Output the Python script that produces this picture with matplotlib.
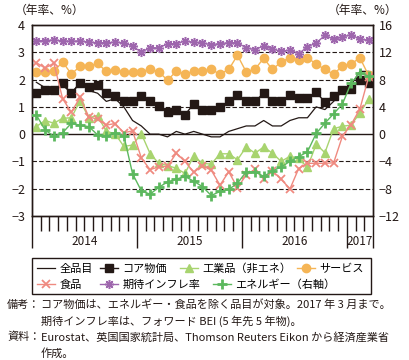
import matplotlib
matplotlib.use("Agg")
import matplotlib.pyplot as plt
from matplotlib.patches import Rectangle
import numpy as np

plt.rcParams['font.family'] = ['Noto Sans CJK JP', 'DejaVu Sans']

# 2014年1月〜2017年3月（月次）
headline = [1.9, 1.7, 1.6, 1.8, 1.5, 1.9, 1.6, 1.5, 1.2, 1.3, 1.0, 0.5,
            0.3, 0.0, 0.0, -0.1, 0.1, 0.0, 0.1, 0.0, -0.1, -0.1, 0.1, 0.2,
            0.3, 0.3, 0.5, 0.3, 0.3, 0.5, 0.6, 0.6, 1.0, 0.9, 1.2, 1.6,
            1.8, 2.3, 2.3]
core = [1.49, 1.6, 1.6, 1.87, 1.49, 1.87, 1.71, 1.79, 1.49, 1.38, 1.2, 1.2,
        1.4, 1.2, 1.02, 0.82, 0.9, 0.71, 1.11, 0.9, 0.89, 1.0, 1.21, 1.43,
        1.2, 1.2, 1.5, 1.2, 1.2, 1.42, 1.31, 1.31, 1.53, 1.18, 1.41, 1.61,
        1.64, 1.98, 1.87]
goods = [0.28, 0.5, 0.4, 0.58, 0.6, 1.22, 0.6, 0.68, 0.1, 0.02, -0.45, -0.4,
         0.02, -0.71, -1.07, -1.15, -1.25, -1.44, -0.8, -1.07, -1.1, -0.72, -0.72, -0.94,
         -0.47, -0.7, -0.47, -0.7, -1.0, -0.81, -0.89, -1.22, -0.37, -0.68, 0.2, 0.29,
         0.33, 0.78, 1.27]
services = [2.28, 2.28, 2.3, 2.65, 2.2, 2.49, 2.49, 2.59, 2.3, 2.36, 2.28, 2.28,
            2.29, 2.38, 2.28, 1.98, 2.3, 2.21, 2.3, 2.3, 2.37, 2.2, 2.37, 2.89,
            2.28, 2.38, 2.78, 2.37, 2.65, 2.8, 2.7, 2.8, 2.57, 2.37, 2.2, 2.5,
            2.57, 2.8, 2.15]
food = [2.62, 2.42, 2.6, 1.3, 0.8, 1.35, 0.63, 0.55, 0.33, 0.39, 0.05, 0.12,
        -0.87, -1.3, -1.2, -1.18, -0.7, -1.0, -1.4, -1.15, -1.32, -1.87, -1.38, -1.96,
        -1.5, -1.29, -1.64, -1.35, -1.65, -2.01, -1.26, -1.07, -1.07, -1.07, -1.05, -0.08,
        0.35, 0.92, 2.1]
expect = [3.42, 3.43, 3.45, 3.42, 3.4, 3.42, 3.37, 3.35, 3.35, 3.37, 3.35, 3.23,
          3.0, 3.17, 3.16, 3.31, 3.32, 3.41, 3.37, 3.34, 3.28, 3.32, 3.35, 3.35,
          3.16, 3.1, 3.23, 3.12, 3.04, 3.08, 2.95, 3.2, 3.34, 3.62, 3.48, 3.56,
          3.65, 3.47, 3.45]
# エネルギー（右軸）
energy = [2.8, 0.6, -0.3, 0.2, 1.6, 1.3, 1.1, -0.1, -0.3, 0.2, -0.2, -5.8,
          -8.3, -8.8, -7.8, -7.0, -6.6, -6.2, -6.9, -7.7, -9.0, -8.4, -8.1, -7.2,
          -5.5, -5.5, -6.2, -5.4, -4.8, -4.0, -3.3, -2.6, 0.1, 1.6, 3.0, 4.4,
          7.5, 9.0, 8.5]
years = ['2014', '2015', '2016', '2017']
year_months = [12, 12, 12, 3]

x = np.arange(len(headline)) + 0.5

W, H = 410, 360
fig = plt.figure(figsize=(W/100, H/100), dpi=100)
ax = fig.add_axes([32/W, 1-216/H, 341/W, 191/H])
ax2 = ax.twinx()

ink = '#231815'
c_goods = '#a8d46f'
c_serv = '#f5b556'
c_food = '#ef8a80'
c_exp = '#9e66ad'
c_en = '#5cb85e'

# グリッド
for v in [1, 2, 3, -1, -2]:
    ax.axhline(v, color=ink, lw=0.8, ls=(0, (4, 2)), zorder=1)
ax.axhline(0, color=ink, lw=1.0, zorder=1)

l1, = ax.plot(x, headline, color=ink, lw=0.9, label='全品目', zorder=3)
l2, = ax.plot(x, core, color=ink, lw=1.0, marker='s', ms=5.5, label='コア物価', zorder=3)
l3, = ax.plot(x, goods, color=c_goods, lw=1.0, marker='^', ms=6, label='工業品（非エネ）', zorder=3)
l4, = ax.plot(x, services, color=c_serv, lw=1.0, marker='o', ms=6, label='サービス', zorder=3)
l5, = ax.plot(x, food, color=c_food, lw=1.0, marker='x', ms=5.5, mew=1.3, label='食品', zorder=3)
l6, = ax.plot(x, expect, color=c_exp, lw=1.0, marker=(8, 2, 0), ms=6.5, mew=1.1, label='期待インフレ率', zorder=3)
l7, = ax2.plot(x, energy, color=c_en, lw=1.0, marker='+', ms=7, mew=2.0, label='エネルギー（右軸）', zorder=3)

ax.set_xlim(0, len(headline))
ax.set_ylim(-3, 4)
ax.set_yticks(range(-3, 5))
ax2.set_ylim(-12, 16)
ax2.set_yticks(range(-12, 17, 4))

for a in (ax, ax2):
    for s in a.spines.values():
        s.set_color(ink)
        s.set_linewidth(1.0)

bounds = np.concatenate([[0], np.cumsum(year_months)])
ax.set_xticks(bounds)
ax.set_xticks(np.arange(0, len(headline) + 1), minor=True)
ax.tick_params(axis='x', which='major', length=23, width=1.0, color=ink, labelbottom=False)
ax.tick_params(axis='x', which='minor', length=11, width=1.0, color=ink)
ax.tick_params(axis='y', length=0, labelsize=9, pad=5, colors=ink)
ax2.tick_params(axis='y', length=0, labelsize=9, pad=4, colors=ink)

for k, yr in enumerate(years):
    cx = (bounds[k] + bounds[k + 1]) / 2
    ax.text(cx, -0.135, yr, transform=ax.get_xaxis_transform(),
            ha='center', va='center', fontsize=8.5, color=ink)

fig.text(15/W, 1-10/H, '（年率、%）', fontsize=8.5, ha='left', va='center', color=ink)
fig.text(328/W, 1-10/H, '（年率、%）', fontsize=8.5, ha='left', va='center', color=ink)

# 凡例（項目ごとに配置）
legend_pos = [(l1, 37, 269), (l2, 100, 269), (l3, 180, 269), (l4, 297, 269),
              (l5, 37, 285), (l6, 100, 285), (l7, 213, 285)]
for h, px, py in legend_pos:
    lg = fig.legend(handles=[h], loc='center left', bbox_to_anchor=(px/W, 1-py/H),
                    fontsize=8, frameon=False, handlelength=1.6, handletextpad=0.4,
                    borderpad=0, borderaxespad=0)
fig.patches.append(Rectangle((32/W, 1-294/H), 339/W, 36/H, transform=fig.transFigure,
                             fill=False, edgecolor=ink, lw=1.0))

fs = 8
fig.text(7/W, 1-305/H, '備考：', fontsize=fs, va='center', color=ink)
fig.text(41/W, 1-305/H, 'コア物価は、エネルギー・食品を除く品目が対象。2017 年 3 月まで。',
         fontsize=fs, va='center', color=ink)
fig.text(41/W, 1-321/H, '期待インフレ率は、フォワード BEI (5 年先 5 年物)。',
         fontsize=fs, va='center', color=ink)
fig.text(7/W, 1-337/H, '資料：', fontsize=fs, va='center', color=ink)
fig.text(41/W, 1-337/H, 'Eurostat、英国国家統計局、Thomson Reuters Eikon から経済産業省',
         fontsize=fs, va='center', color=ink)
fig.text(41/W, 1-353/H, '作成。', fontsize=fs, va='center', color=ink)

fig.savefig('out.png', dpi=100)
